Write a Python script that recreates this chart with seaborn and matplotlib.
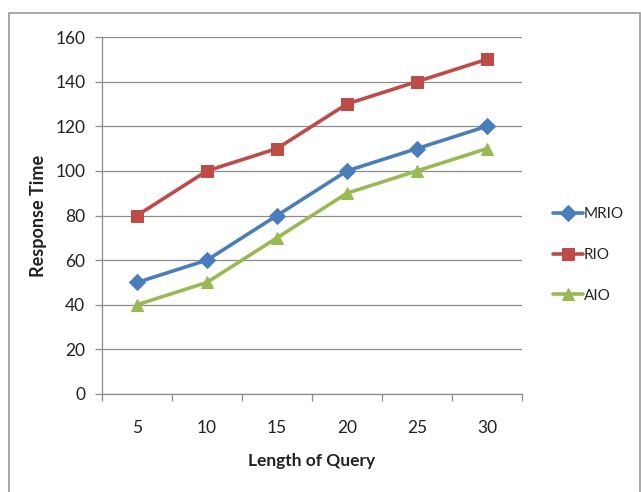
import matplotlib
matplotlib.use("Agg")
import matplotlib.pyplot as plt
import seaborn as sns
import pandas as pd
from matplotlib.patches import Rectangle
from matplotlib.ticker import FixedLocator

categories = ["5", "10", "15", "20", "25", "30"]
mrio = [50, 60, 80, 100, 110, 120]
rio = [80, 100, 110, 130, 140, 150]
aio = [40, 50, 70, 90, 100, 110]
series_names = ["MRIO", "RIO", "AIO"]
y_ticks = [0, 20, 40, 60, 80, 100, 120, 140, 160]

rows = []
for name, vals in zip(series_names, [mrio, rio, aio]):
    for c, v in zip(categories, vals):
        rows.append({"Length of Query": c, "Response Time": v, "Series": name})
df = pd.DataFrame(rows)

sns.set_style("white")
plt.rcParams["font.family"] = ["Lato", "DejaVu Sans"]

fig = plt.figure(figsize=(6.41, 4.92), dpi=100)
ax = fig.add_axes([102/641, 1-394/492, 420/641, 357/492])

palette = {"MRIO": "#4A7EBB", "RIO": "#BE4B48", "AIO": "#98B954"}
markers = {"MRIO": "D", "RIO": "s", "AIO": "^"}
sizes = {"MRIO": 8, "RIO": 9, "AIO": 9}

for name in series_names:
    sub = df[df["Series"] == name]
    sns.lineplot(data=sub, x="Length of Query", y="Response Time", ax=ax,
                 color=palette[name], marker=markers[name], markersize=sizes[name],
                 markeredgecolor=palette[name], linewidth=2.6, label=name,
                 sort=False)

ax.set_xlim(-0.5, len(categories) - 0.5)
ax.set_ylim(0, 160)
ax.set_yticks(y_ticks)
ax.yaxis.grid(True, color="#8c8c8c", linewidth=0.9)
ax.set_axisbelow(True)
ax.xaxis.grid(False)

grey = "#8c8c8c"
for s in ["top", "right"]:
    ax.spines[s].set_visible(False)
for s in ["left", "bottom"]:
    ax.spines[s].set_color(grey)
    ax.spines[s].set_linewidth(0.9)

ax.set_xticks(range(len(categories)))
ax.set_xticklabels(categories)
ax.xaxis.set_minor_locator(FixedLocator([i - 0.5 for i in range(len(categories) + 1)]))
ax.tick_params(axis="x", which="major", length=0, pad=19, labelsize=12.5, labelcolor="#222222")
ax.tick_params(axis="x", which="minor", length=5, color=grey, width=0.9, direction="out", bottom=True)
ax.tick_params(axis="y", which="major", length=5, color=grey, width=0.9, direction="out", left=True,
               pad=7, labelsize=12.5, labelcolor="#222222")

ax.set_xlabel("Length of Query", fontsize=12.5, fontweight="bold", labelpad=12, color="#222222")
ax.set_ylabel("Response Time", fontsize=13, fontweight="bold", labelpad=6, color="#222222")

leg = ax.legend(loc="center left", bbox_to_anchor=(542/641, 1-255/492),
                bbox_transform=fig.transFigure, frameon=False, fontsize=11,
                handlelength=2.0, handletextpad=0.05, labelspacing=1.75,
                borderpad=0.2)

fig.patches.append(Rectangle((9/641, -0.05), (641-10)/641, 1.05 - 13/492,
                             transform=fig.transFigure, fill=False,
                             edgecolor="#9a9a9a", linewidth=1.2))

fig.savefig("out.png", dpi=100)
